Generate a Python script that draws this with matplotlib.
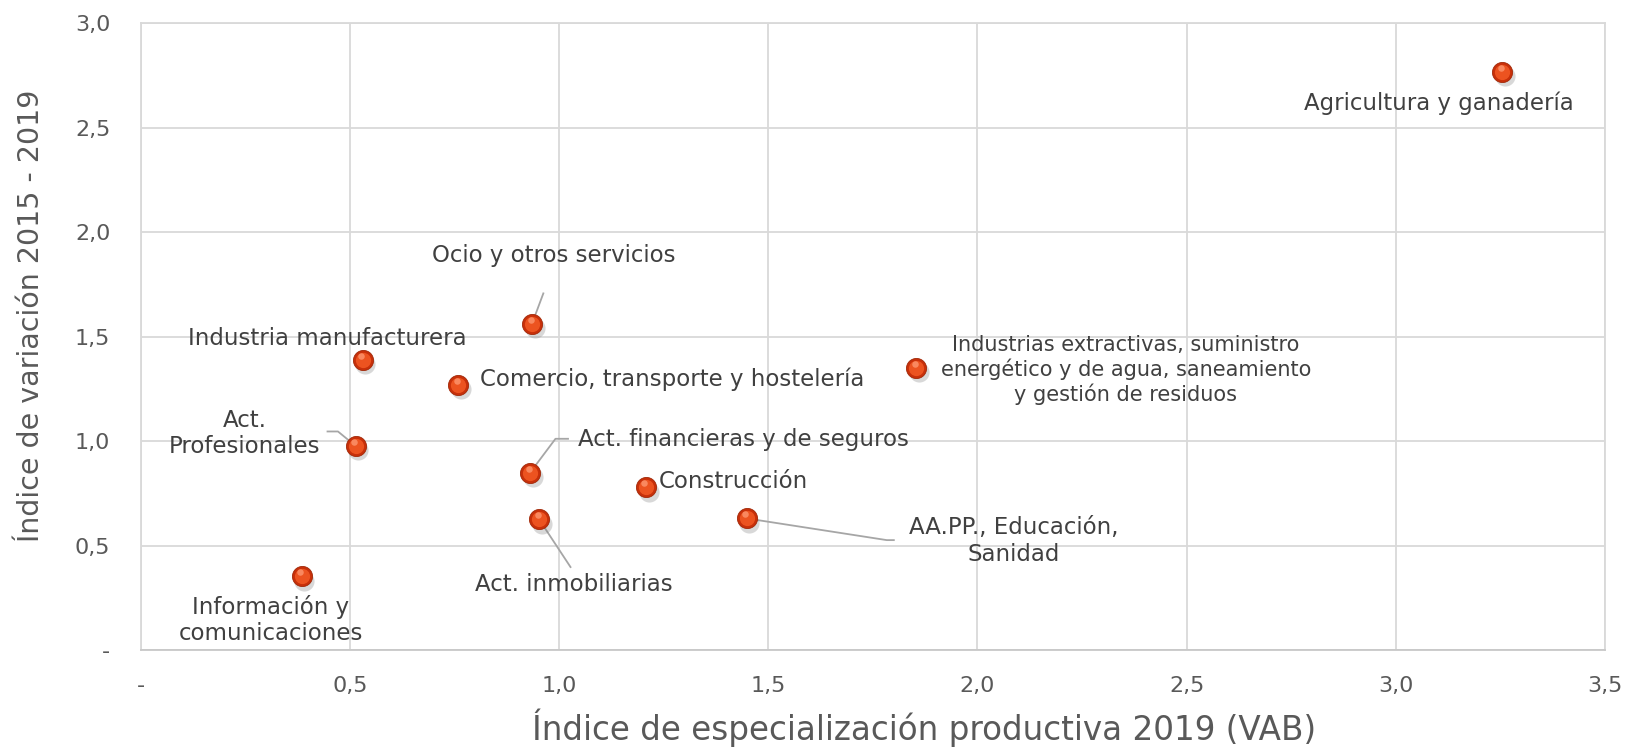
import matplotlib.pyplot as plt
import matplotlib.transforms as mtransforms

plt.rcParams['font.family'] = ['DejaVu Sans']

# sector data: specialisation index (x), variation index (y)
sectors = ["Agricultura y ganadería", "Ocio y otros servicios", "Industria manufacturera",
           "Comercio, transporte y hostelería",
           "Industrias extractivas, suministro\nenergético y de agua, saneamiento\ny gestión de residuos",
           "Act.\nProfesionales", "Act. financieras y de seguros", "Construcción",
           "Act. inmobiliarias", "AA.PP., Educación,\nSanidad", "Información y\ncomunicaciones"]
x_vals = [3.255, 0.935, 0.530, 0.759, 1.854, 0.513, 0.930, 1.207, 0.952, 1.448, 0.384]
y_vals = [2.767, 1.562, 1.388, 1.269, 1.349, 0.977, 0.848, 0.778, 0.625, 0.630, 0.352]

# label anchor positions (data coords) and alignment
label_x = [3.104, 0.987, 0.446, 0.811, 2.355, 0.248, 1.046, 1.239, 1.034, 2.087, 0.310]
label_y = [2.618, 1.889, 1.492, 1.294, 1.339, 1.036, 1.006, 0.808, 0.312, 0.521, 0.144]
label_ha = ["center", "center", "center", "left", "center", "center", "left", "left",
            "center", "center", "center"]
label_size = [16.5, 16.5, 16.5, 16.5, 15, 16.5, 16.5, 16.5, 16.5, 16.5, 16.5]

# leader lines: point -> elbow -> end, for labelled-away points
leaders = {
    1: [(0.935, 1.562), (0.962, 1.707)],
    5: [(0.513, 0.977), (0.471, 1.046), (0.446, 1.046)],
    6: [(0.930, 0.848), (0.991, 1.011), (1.021, 1.011)],
    8: [(0.952, 0.625), (1.027, 0.397)],
    9: [(1.448, 0.630), (1.783, 0.526), (1.800, 0.526)],
}

fig = plt.figure(figsize=(16.26, 7.51), dpi=100)
ax = fig.add_axes([0.0867, 0.1345, 0.9003, 0.8345])

for i, pts in leaders.items():
    xs, ys = zip(*pts)
    ax.plot(xs, ys, color='#a6a6a6', lw=1.3, zorder=2)

# shadow, ball, highlight
shadow = mtransforms.offset_copy(ax.transData, fig=fig, x=2, y=-3, units='points')
ax.scatter(x_vals, y_vals, s=210, color='#808080', alpha=0.3, lw=0, transform=shadow, zorder=3)
ax.scatter(x_vals, y_vals, s=210, color='#c8300a', edgecolor='#a02808', lw=0.6, zorder=4)
ax.scatter(x_vals, y_vals, s=120, color='#ec5320', lw=0, zorder=5)
hl = mtransforms.offset_copy(ax.transData, fig=fig, x=-1, y=3, units='points')
ax.scatter(x_vals, y_vals, s=22, color='#ffa07a', lw=0, alpha=0.7, transform=hl, zorder=6)

for i, name in enumerate(sectors):
    ax.text(label_x[i], label_y[i], name, ha=label_ha[i], va='center',
            fontsize=label_size[i], color='#404040', linespacing=1.2, zorder=7)

ax.set_xlim(0, 3.5)
ax.set_ylim(0, 3.0)
xt = [0, 0.5, 1.0, 1.5, 2.0, 2.5, 3.0, 3.5]
yt = [0, 0.5, 1.0, 1.5, 2.0, 2.5, 3.0]
ax.set_xticks(xt)
ax.set_xticklabels(['-'] + [f"{v:.1f}".replace('.', ',') for v in xt[1:]])
ax.set_yticks(yt)
ax.set_yticklabels(['-'] + [f"{v:.1f}".replace('.', ',') for v in yt[1:]])
ax.tick_params(length=0, labelsize=16, labelcolor='#595959')
ax.tick_params(axis='x', pad=19)
ax.tick_params(axis='y', pad=22)
ax.grid(True, color='#d9d9d9', lw=1.3)
ax.set_axisbelow(True)
for sp in ax.spines.values():
    sp.set_color('#d9d9d9')
    sp.set_linewidth(1.3)
ax.spines['bottom'].set_color('#c8c8c8')

ax.set_xlabel("Índice de especialización productiva 2019 (VAB)", fontsize=23.5,
              color='#595959', va='center')
ax.xaxis.set_label_coords(0.535, -0.124)
ax.set_ylabel("Índice de variación 2015 - 2019", fontsize=20.5, color='#595959', va='center')
ax.yaxis.set_label_coords(-0.075, 0.534)

fig.savefig("out.png", dpi=100)
